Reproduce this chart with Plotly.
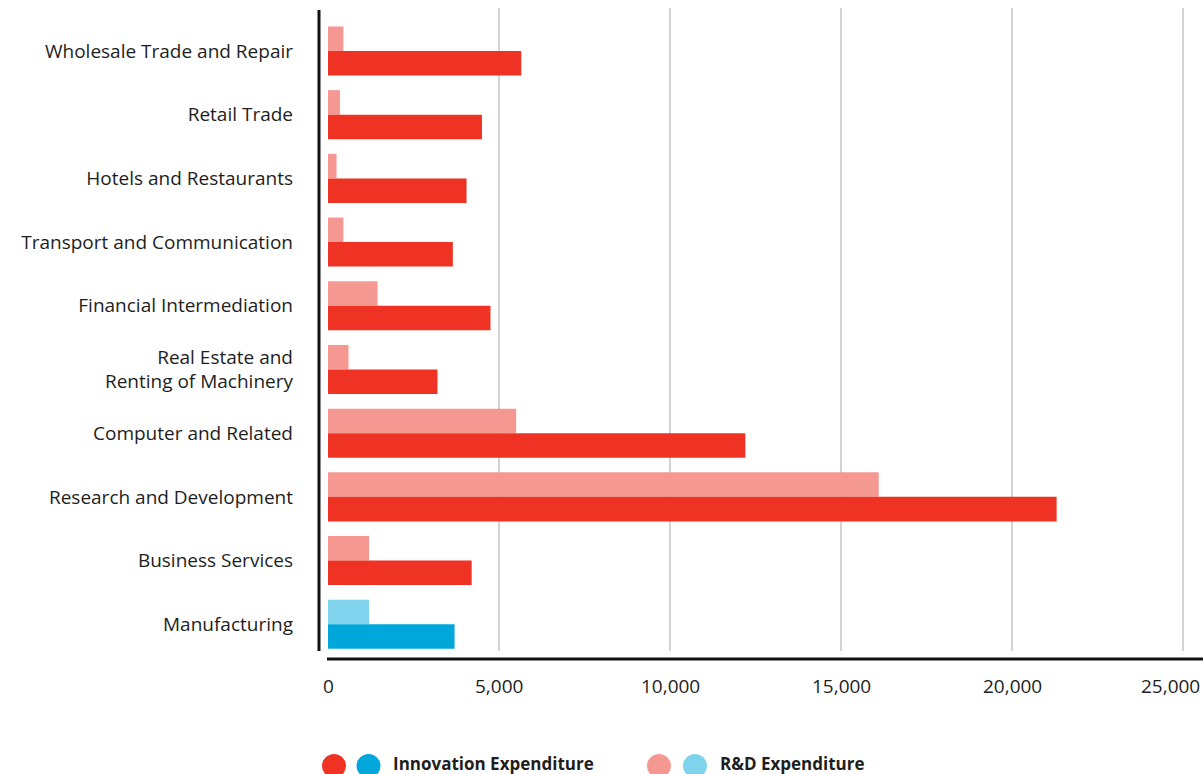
import plotly.graph_objects as go

# Sectors, top to bottom
categories = [
    "Wholesale Trade and Repair",
    "Retail Trade",
    "Hotels and Restaurants",
    "Transport and Communication",
    "Financial Intermediation",
    "Real Estate and<br>Renting of Machinery",
    "Computer and Related",
    "Research and Development",
    "Business Services",
    "Manufacturing",
]
innovation_expenditure = [5650, 4500, 4050, 3650, 4750, 3200, 12200, 21300, 4200, 3700]
rd_expenditure = [450, 350, 250, 450, 1450, 600, 5500, 16100, 1200, 1200]

x_tick_values = [0, 5000, 10000, 15000, 20000, 25000]
x_tick_labels = ["0", "5,000", "10,000", "15,000", "20,000", "25,000"]

# Palette: services in red, manufacturing in blue
RED, RED_LIGHT = "#EE3325", "#F59892"
BLUE, BLUE_LIGHT = "#00A7DA", "#80D3EC"


def sector_colors(dark):
    base, manu = (RED, BLUE) if dark else (RED_LIGHT, BLUE_LIGHT)
    return [manu if c == "Manufacturing" else base for c in categories]


W, H = 1203, 774
L, R, T, B = 328, 0, 8, 123
PW, PH = W - L - R, H - T - B
FONT = "Open Sans"
TEXT = "#1e1e1e"


def px_x(px):
    return (px - L) / PW


def px_y(py):
    return (T + PH - py) / PH


fig = go.Figure()
fig.add_trace(go.Bar(
    y=categories, x=rd_expenditure, orientation="h",
    marker=dict(color=sector_colors(False), line=dict(width=0)),
    name="R&D Expenditure", showlegend=False,
))
fig.add_trace(go.Bar(
    y=categories, x=innovation_expenditure, orientation="h",
    marker=dict(color=sector_colors(True), line=dict(width=0)),
    name="Innovation Expenditure", showlegend=False,
))

x_max = PW / ((1183.7 - 328.5) / 25000)

fig.update_layout(
    width=W, height=H, autosize=False,
    margin=dict(l=L, r=R, t=T, b=B, pad=0),
    paper_bgcolor="white", plot_bgcolor="white",
    barmode="group", bargap=0.23, bargroupgap=0,
    font=dict(family=FONT, color=TEXT),
    xaxis=dict(
        range=[0, x_max], tickvals=x_tick_values, showticklabels=False,
        showgrid=True, gridcolor="#d3d3d3", gridwidth=2,
        zeroline=True, zerolinecolor="white", zerolinewidth=2,
        showline=False, fixedrange=True,
    ),
    yaxis=dict(
        type="category", categoryorder="array", categoryarray=categories,
        range=[9.42, -0.675], showgrid=False, zeroline=False, showline=False,
        ticks="", ticklabelstandoff=34,
        tickfont=dict(family=FONT, size=19, color=TEXT),
    ),
)

# x tick labels
for i, (v, lab) in enumerate(zip(x_tick_values, x_tick_labels)):
    fig.add_annotation(
        x=v, y=px_y(686), xref="x", yref="paper", text=lab, showarrow=False,
        xanchor="center", yanchor="middle",
        xshift=-13 if i == len(x_tick_values) - 1 else 0,
        font=dict(family=FONT, size=19, color=TEXT),
    )

# axis rules
fig.add_shape(type="line", xref="paper", yref="paper",
              x0=px_x(319), x1=px_x(319), y0=px_y(10), y1=px_y(651),
              line=dict(color="#111111", width=3))
fig.add_shape(type="line", xref="paper", yref="paper",
              x0=px_x(327), x1=1, y0=px_y(659), y1=px_y(659),
              line=dict(color="#111111", width=3))

# legend
r = 12
legend_items = [
    ((334, 368.5), (RED, BLUE), 391, "Innovation Expenditure"),
    ((659, 695), (RED_LIGHT, BLUE_LIGHT), 718, "R&D Expenditure"),
]
cy = 766
for centers, colors, tx, label in legend_items:
    for cx, col in zip(centers, colors):
        fig.add_shape(type="circle", xref="paper", yref="paper",
                      x0=px_x(cx - r), x1=px_x(cx + r),
                      y0=px_y(cy + r), y1=px_y(cy - r),
                      fillcolor=col, line=dict(width=0))
    fig.add_annotation(x=px_x(tx), y=px_y(763), xref="paper", yref="paper",
                       text="<b>" + label + "</b>", showarrow=False,
                       xanchor="left", yanchor="middle",
                       font=dict(family=FONT, size=17, color=TEXT))

# source note along the bottom edge
fig.add_annotation(x=px_x(12), y=px_y(767), xref="paper", yref="paper",
                   text="Source: CISA", showarrow=False,
                   xanchor="left", yanchor="top",
                   font=dict(family=FONT, size=17, color=TEXT))

fig.write_html("out.html")
